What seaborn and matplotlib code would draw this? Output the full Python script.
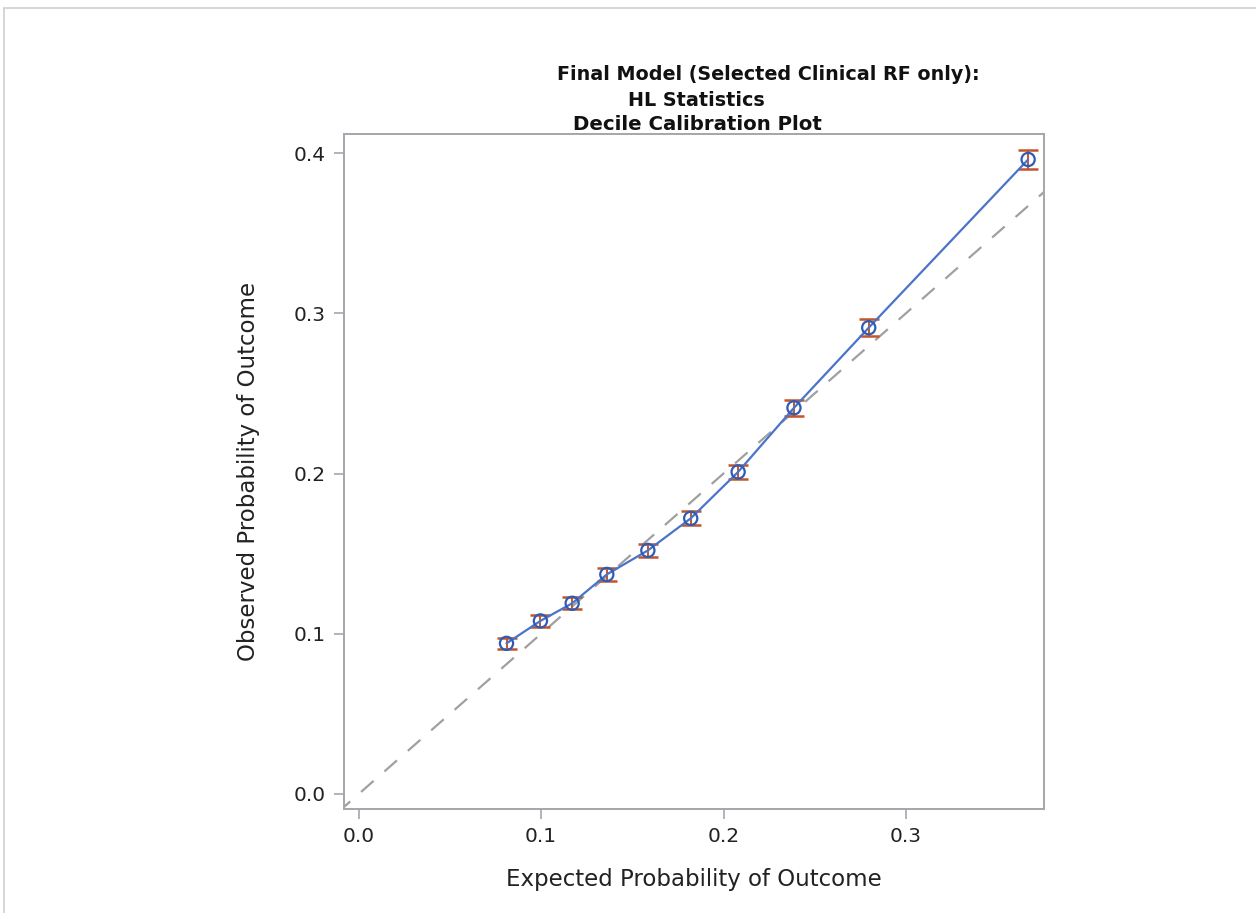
import matplotlib
matplotlib.use("Agg")
import matplotlib.pyplot as plt
import seaborn as sns
import pandas as pd
import numpy as np

# Data
expected = [0.081, 0.0996, 0.117, 0.136, 0.1585, 0.182, 0.208, 0.2386, 0.2796, 0.367]
observed = [0.094, 0.108, 0.119, 0.137, 0.152, 0.172, 0.201, 0.241, 0.291, 0.396]
obs_err = [0.0035, 0.0037, 0.0038, 0.0040, 0.0042, 0.0043, 0.0046, 0.0050, 0.0053, 0.0058]

x_ticks = [0.0, 0.1, 0.2, 0.3]
y_ticks = [0.0, 0.1, 0.2, 0.3, 0.4]
x_ticklabels = ["0.0", "0.1", "0.2", "0.3"]
y_ticklabels = ["0.0", "0.1", "0.2", "0.3", "0.4"]

title_main = "Final Model (Selected Clinical RF only):"
title_sub1 = "HL Statistics"
title_sub2 = "Decile Calibration Plot"
x_label = "Expected Probability of Outcome"
y_label = "Observed Probability of Outcome"

df = pd.DataFrame({"expected": expected, "observed": observed, "err": obs_err})

sns.set_style("white")
plt.rcParams["font.family"] = ["DejaVu Sans"]

fig = plt.figure(figsize=(12.56, 9.13), dpi=100)
ax = fig.add_axes([344 / 1256, 1 - 809 / 913, 700 / 1256, 675 / 913])

xlim = (-0.0081, 0.3757)
ylim = (-0.0094, 0.4119)

# reference diagonal
ax.plot([-0.05, 0.5], [-0.05, 0.5], color="#a0a0a0", lw=1.6,
        dashes=(7.5, 6.5), zorder=1)

# error bars
ax.errorbar(df["expected"], df["observed"], yerr=df["err"], fmt="none",
            ecolor="#c2552a", elinewidth=1.4, capsize=7.5, capthick=1.8, zorder=2)

sns.lineplot(data=df, x="expected", y="observed", ax=ax, color="#4a74c9",
             lw=1.6, zorder=3, sort=True)
sns.scatterplot(data=df, x="expected", y="observed", ax=ax, marker="o", s=90,
                facecolor="none", edgecolor="#2f5bb5", linewidth=1.6, zorder=4)

ax.set_xlim(*xlim)
ax.set_ylim(*ylim)
ax.set_xticks(x_ticks)
ax.set_xticklabels(x_ticklabels)
ax.set_yticks(y_ticks)
ax.set_yticklabels(y_ticklabels)

for s in ax.spines.values():
    s.set_color("#a3a7ab")
    s.set_linewidth(1.4)
    s.set_visible(True)

ax.tick_params(axis="both", which="both", direction="out", length=7, width=1.2,
               color="#a3a7ab", labelsize=14.5, labelcolor="#222222", pad=6,
               bottom=True, left=True, top=False, right=False)

ax.set_xlabel(x_label, fontsize=16.5, color="#222222", labelpad=16)
ax.set_ylabel(y_label, fontsize=16.5, color="#222222", labelpad=24)

fig.text(768 / 1256, 1 - 75 / 913, title_main, ha="center", va="center",
         fontsize=13.8, fontweight="bold", color="#111111")
fig.text(696 / 1256, 1 - 101 / 913, title_sub1, ha="center", va="center",
         fontsize=13.8, fontweight="bold", color="#111111")
fig.text(697 / 1256, 1 - 124 / 913, title_sub2, ha="center", va="center",
         fontsize=14.2, fontweight="bold", color="#111111")

# outer document frame lines
fig.add_artist(plt.Line2D([4 / 1256, 1.0], [1 - 8 / 913, 1 - 8 / 913],
                          transform=fig.transFigure, color="#d0d0d0", lw=1.2))
fig.add_artist(plt.Line2D([4 / 1256, 4 / 1256], [0, 1 - 8 / 913],
                          transform=fig.transFigure, color="#d0d0d0", lw=1.2))

fig.savefig("out.png", dpi=100)
